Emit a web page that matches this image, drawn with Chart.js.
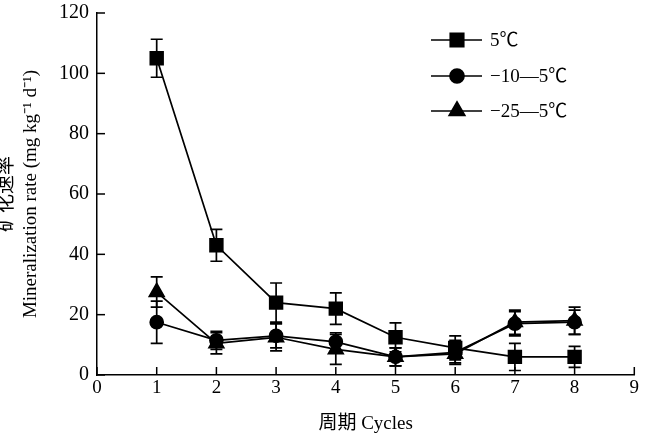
<!DOCTYPE html>
<html><head><meta charset="utf-8">
<script src="https://cdn.jsdelivr.net/npm/chart.js@4/dist/chart.umd.min.js"></script>
<style>html,body{margin:0;padding:0;background:#fff}#wrap{width:645px;height:435px}</style>
</head><body><div id="wrap"><canvas id="c" width="645" height="435"></canvas></div>
<script>
const cycles = [1, 2, 3, 4, 5, 6, 7, 8];
const s5 = [105, 43, 24, 22, 12.5, 9, 6, 6];
const s5err = [6.3, 5.3, 6.5, 5.2, 4.8, 4, 4.5, 3.5];
const s10 = [17.5, 11.5, 13, 11, 6, 7.5, 17, 17.5];
const s10err = [7, 3, 4, 3, 3, 4, 4, 4];
const s25 = [27.5, 10.5, 12.5, 8.5, 6, 7, 17.5, 18];
const s25err = [5, 3.5, 4.5, 5, 3, 3, 4, 4.5];
const seriesLabels = ['5\u2103', '\u221210\u20145\u2103', '\u221225\u20145\u2103'];
const xTitle = '周期 Cycles';
const yTitle = ['矿化速率', 'Mineralization rate (mg kg\u207B\u00B9 d\u207B\u00B9)'];

const FONT = "'Liberation Serif', 'Noto Sans CJK SC', serif";
const mk = (vals, errs, label, style, r) => ({
  label, data: cycles.map((c, i) => ({x: c, y: vals[i]})), errs,
  borderColor: '#000', backgroundColor: '#000', borderWidth: 1.7,
  pointStyle: style, pointRadius: r, pointHoverRadius: r, tension: 0
});
const datasets = [
  mk(s25, s25err, seriesLabels[2], 'triangle', 8.5),
  mk(s10, s10err, seriesLabels[1], 'circle', 6.5),
  mk(s5, s5err, seriesLabels[0], 'rect', 9)
];

const extras = {
  id: 'extras',
  afterDatasetsDraw(chart) {
    const ctx = chart.ctx, xs = chart.scales.x, ys = chart.scales.y;
    ctx.save();
    ctx.strokeStyle = '#000'; ctx.lineWidth = 1.7;
    chart.data.datasets.forEach(ds => {
      ds.data.forEach((p, i) => {
        const e = ds.errs[i];
        const px = xs.getPixelForValue(p.x);
        const top = ys.getPixelForValue(p.y + e), bot = ys.getPixelForValue(Math.max(0, p.y - e));
        ctx.beginPath();
        ctx.moveTo(px, top); ctx.lineTo(px, bot);
        ctx.moveTo(px - 6, top); ctx.lineTo(px + 6, top);
        ctx.moveTo(px - 6, bot); ctx.lineTo(px + 6, bot);
        ctx.stroke();
      });
    });
    // inward ticks
    ctx.lineWidth = 1.5;
    ys.ticks.forEach(t => {
      const py = ys.getPixelForValue(t.value);
      ctx.beginPath(); ctx.moveTo(xs.left, py); ctx.lineTo(xs.left + 8, py); ctx.stroke();
    });
    xs.ticks.forEach(t => {
      const px = xs.getPixelForValue(t.value);
      ctx.beginPath(); ctx.moveTo(px, ys.bottom); ctx.lineTo(px, ys.bottom - 8); ctx.stroke();
    });
    // legend
    const order = [2, 1, 0];
    const ly = [40, 76, 111];
    order.forEach((di, k) => {
      const ds = chart.data.datasets[di];
      const y = ly[k];
      ctx.lineWidth = 1.7;
      ctx.beginPath(); ctx.moveTo(431, y); ctx.lineTo(482, y); ctx.stroke();
      ctx.fillStyle = '#000';
      Chart.helpers.drawPoint(ctx, {pointStyle: ds.pointStyle, radius: ds.pointRadius + 0.5, borderWidth: 1}, 457, y);
      ctx.font = "19px " + FONT;
      ctx.textBaseline = 'middle'; ctx.textAlign = 'left';
      ctx.fillText(ds.label, 490, y + 1);
    });
    ctx.restore();
  }
};

new Chart(document.getElementById('c'), {
  type: 'line',
  data: { datasets },
  options: {
    responsive: false, animation: false, devicePixelRatio: 1,
    layout: { padding: { top: 13, right: 4, left: 0, bottom: 0 } },
    plugins: { legend: { display: false }, tooltip: { enabled: false } },
    scales: {
      x: {
        type: 'linear', min: 0, max: 9,
        ticks: { stepSize: 1, color: '#000', font: { family: FONT, size: 19 }, padding: 2, maxRotation: 0 },
        grid: { drawOnChartArea: false, drawTicks: false },
        border: { display: true, color: '#000', width: 1.5 },
        title: { display: true, text: xTitle, color: '#000', font: { family: FONT, size: 19 }, padding: { top: 6, bottom: 0 } },
        afterFit(s) { s.height = 60; s.paddingRight = 0; s.paddingLeft = 0; }
      },
      y: {
        min: 0, max: 120,
        ticks: { stepSize: 20, color: '#000', font: { family: FONT, size: 20 }, padding: 8 },
        grid: { drawOnChartArea: false, drawTicks: false },
        border: { display: true, color: '#000', width: 1.5 },
        title: { display: true, text: yTitle, color: '#000', font: { family: FONT, size: 19, lineHeight: 1.25 }, padding: { top: -5, bottom: 0 } },
        afterFit(s) { s.width = 97; s.paddingTop = 0; s.paddingBottom = 0; }
      }
    }
  },
  plugins: [extras]
});
</script>
</body></html>
